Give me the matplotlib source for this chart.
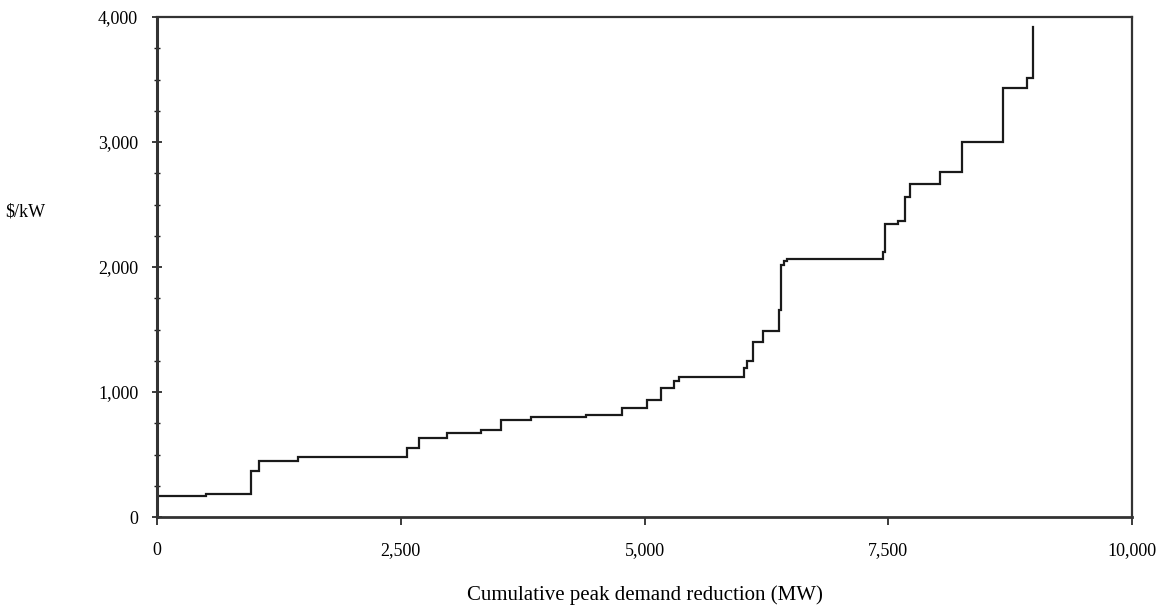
import matplotlib
matplotlib.use("Agg")
import matplotlib.pyplot as plt
from matplotlib.ticker import MultipleLocator, FuncFormatter

# Step supply curve: each step starts at x_edges[i] with cost costs[i]
x_edges = [0, 500, 965, 1050, 1450, 2560, 2690, 2970, 3320, 3530, 3840, 4400,
           4770, 5030, 5170, 5300, 5350, 6020, 6050, 6115, 6215, 6375, 6400,
           6430, 6460, 7445, 7465, 7595, 7672, 7723, 8031, 8260, 8674, 8926,
           8981]
costs = [165, 185, 365, 445, 480, 555, 630, 670, 700, 780, 800, 820,
         870, 940, 1035, 1085, 1120, 1190, 1250, 1400, 1485, 1660, 2020,
         2045, 2065, 2120, 2345, 2370, 2560, 2665, 2760, 3000, 3430, 3510,
         3920]

x_ticks = [0, 2500, 5000, 7500, 10000]
y_ticks = [0, 1000, 2000, 3000, 4000]

plt.rcParams['font.family'] = ['Liberation Serif', 'DejaVu Serif']

fig = plt.figure(figsize=(11.59, 6.14), dpi=100)
ax = fig.add_axes([157/1159, 1-517/614, (1132-157)/1159, (517-17)/614])

col = '#1a1a1a'
px, py = [0], [0]
for i, (x, c) in enumerate(zip(x_edges, costs)):
    px.append(x)
    py.append(c)
    if i + 1 < len(x_edges):
        px.append(x_edges[i + 1])
        py.append(c)
ax.plot(px, py, color=col, lw=1.6, solid_joinstyle='miter')

ax.set_xlim(0, 10000)
ax.set_ylim(0, 4000)
ax.set_xticks(x_ticks)
ax.set_yticks(y_ticks)
ax.yaxis.set_minor_locator(MultipleLocator(250))
fmt = FuncFormatter(lambda v, p: f"{int(v):,}")
ax.xaxis.set_major_formatter(fmt)
ax.yaxis.set_major_formatter(fmt)

for s in ax.spines.values():
    s.set_color('#333333')
    s.set_linewidth(1.6)
ax.spines['left'].set_linewidth(2.2)
ax.spines['bottom'].set_linewidth(2.0)

ax.tick_params(axis='y', which='major', direction='inout', length=7, width=1.2,
               color=col, labelsize=13, pad=10)
ax.tick_params(axis='y', which='minor', direction='inout', length=5, width=1.0,
               color=col)
ax.tick_params(axis='x', which='major', direction='out', length=6, width=1.2,
               color=col, labelsize=13, pad=12)

ax.set_xlabel('Cumulative peak demand reduction (MW)', fontsize=15,
              labelpad=19)
fig.text(5/1159, 1-212/614, r'\$/kW', fontsize=13, ha='left', va='center')

fig.savefig('out.png', dpi=100)
